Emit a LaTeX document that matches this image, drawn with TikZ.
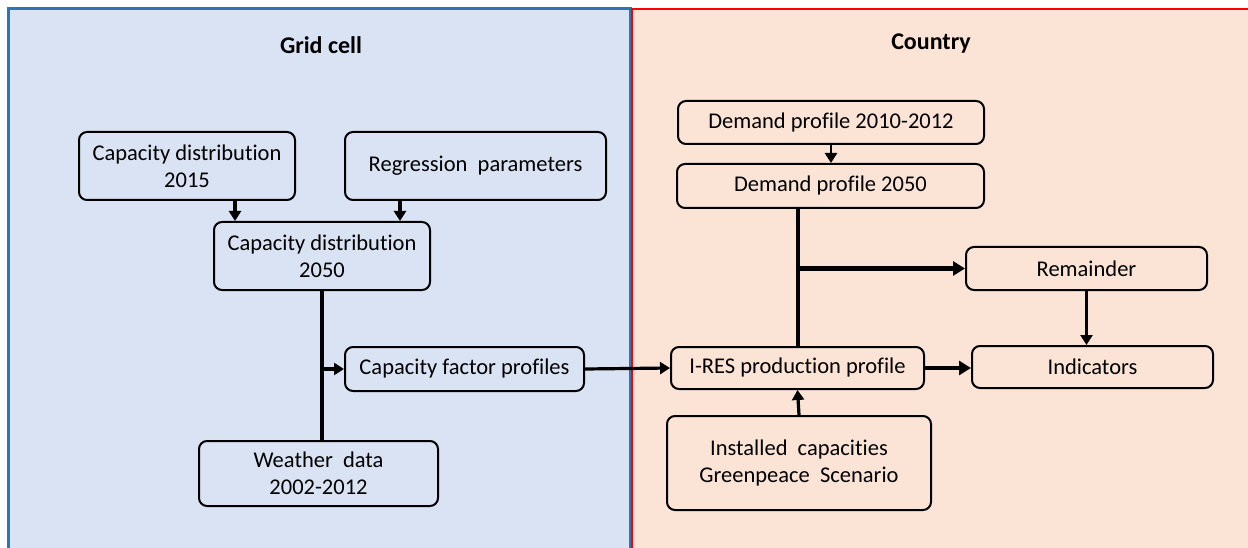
\documentclass[tikz,border=0pt]{standalone}
\usepackage{fontspec}
\setmainfont{Carlito}[Ligatures={NoCommon}]
\usetikzlibrary{arrows.meta}
\definecolor{cellfill}{HTML}{DAE3F3}
\definecolor{cellline}{HTML}{2E75B6}
\definecolor{landfill}{HTML}{FBE4D6}
\definecolor{landline}{HTML}{FF0000}
\tikzset{
  box/.style={draw=black, line width=2pt, rounded corners=8pt, align=center,
    inner sep=0pt, font=\fontsize{22.5}{27}\selectfont},
  title/.style={font=\fontsize{24}{28}\selectfont\bfseries},
  link/.style={line width=3.2pt},
  arr/.style={line width=3.2pt, -{Triangle[length=10pt,width=12pt]}},
  bigarr/.style={line width=4.5pt, -{Triangle[length=12pt,width=14pt]}},
}
\begin{document}
\begin{tikzpicture}[x=1pt, y=-1pt]
\useasboundingbox (0,0) rectangle (1248,548);
\clip (0,0) rectangle (1248,548);

% panels
\draw[draw=cellline, fill=cellfill, line width=3pt] (8,9) rectangle (630,570);
\draw[draw=landline, fill=landfill, line width=2pt] (632,9) rectangle (1270,570);

\node[title] (tgrid) at (321,45) {Grid cell};
\node[title] (tcountry) at (931,44) {Country};

% grid cell side
\node[box, minimum width=216pt, minimum height=68pt] (cd15) at (187,166) {Capacity distribution\\2015};
\node[box, minimum width=261pt, minimum height=68pt] (reg) at (475.5,166) {Regression\ \ parameters};
\node[box, minimum width=216pt, minimum height=68pt] (cd50) at (322,256) {Capacity distribution\\2050};
\node[box, minimum width=239pt, minimum height=44pt] (cfp) at (464.5,369) {Capacity factor profiles};
\node[box, minimum width=239pt, minimum height=65pt] (wd) at (318.5,473.5) {Weather\ \ data\\2002-2012};

% country side
\node[box, minimum width=306pt, minimum height=43pt] (d10) at (831,122.5) {Demand profile 2010-2012};
\node[box, minimum width=307pt, minimum height=44pt] (d50) at (830.5,186) {Demand profile 2050};
\node[box, minimum width=241pt, minimum height=43pt] (rem) at (1086.5,268.5) {Remainder};
\node[box, minimum width=253pt, minimum height=42pt] (ires) at (797.5,368) {I-RES production profile};
\node[box, minimum width=241pt, minimum height=42pt] (ind) at (1092.5,367) {Indicators};
\node[box, minimum width=264pt, minimum height=94pt] (inst) at (799,463) {Installed\ \ capacities\\Greenpeace\ \ Scenario};

% helper columns for the offset arrows
\coordinate (colA) at (235,0);
\coordinate (colB) at (400,0);
\coordinate (colD) at (798,0);

% grid cell connectors
\draw[arr] (cd15.south -| colA) -- (cd50.north -| colA);
\draw[arr] (reg.south -| colB) -- (cd50.north -| colB);
\draw[link] (cd50.south) -- (cd50.south |- wd.north);
\draw[arr] (cd50.south |- cfp.west) -- (cfp.west);
\draw[arr] (cfp.east) -- (ires.west);

% country connectors
\draw[arr, line width=2.5pt] (d10.south) -- (d10.south |- d50.north);
\draw[link] (d50.south -| colD) -- (ires.north -| colD);
\draw[bigarr] (rem.west -| colD) -- (rem.west);
\draw[arr] (rem.south) -- (rem.south |- ind.north);
\draw[bigarr] (ires.east) -- (ind.west |- ires.east);
\draw[arr] (inst.north) -- (ires.south);
\end{tikzpicture}
\end{document}
